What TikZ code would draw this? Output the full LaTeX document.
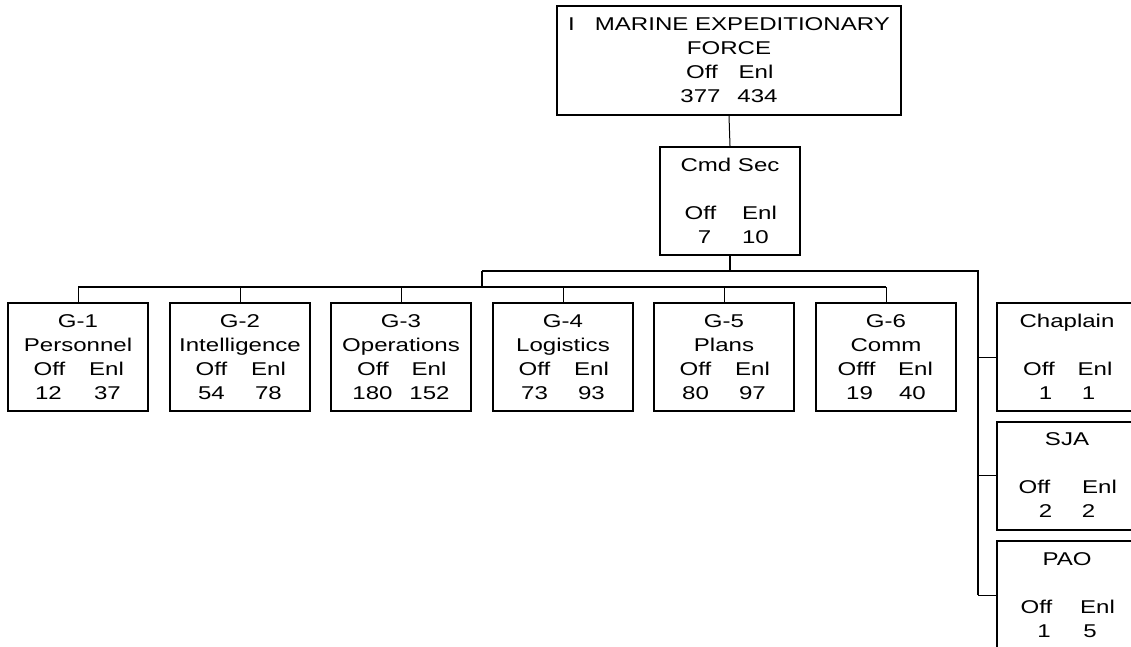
\documentclass[tikz,border=0pt]{standalone}
\usepackage{fontspec}
\setmainfont{Liberation Sans}[FakeStretch=1.3]
\newcommand{\pair}[3]{\makebox[30pt][c]{#2}\hspace{\dimexpr#1pt-30pt\relax}\makebox[30pt][c]{#3}}
\begin{document}
\begin{tikzpicture}[x=1pt,y=-1pt,
  box/.style={draw, line width=2pt, minimum width=140pt, minimum height=108pt,
    inner sep=0pt, align=center, font=\fontsize{18.5}{24}\selectfont},
  bus/.style={line width=2pt},
  drop/.style={line width=1pt}]
\useasboundingbox (0,0) rectangle (1131,647);
\clip (0,0) rectangle (1131,647);
\node[box, minimum width=344pt, minimum height=109pt] (mef) at (729,60.5)
  {I\ \ \ MARINE EXPEDITIONARY\\FORCE\\\pair{54}{Off}{Enl}\\\pair{57}{377}{434}};
\node[box] (cmd) at (730,201) {Cmd Sec\\\strut\\\pair{59}{Off}{Enl}\\\pair{51}{7}{10}};
\node[box] (g1) at (78,357) {G-1\\Personnel\\\pair{57}{Off}{Enl}\\\pair{59}{12}{37}};
\node[box] (g2) at (240,357) {G-2\\Intelligence\\\pair{57}{Off}{Enl}\\\pair{57}{54}{78}};
\node[box] (g3) at (401,357) {G-3\\Operations\\\pair{56}{Off}{Enl}\\\pair{57}{180}{152}};
\node[box] (g4) at (563,357) {G-4\\Logistics\\\pair{57}{Off}{Enl}\\\pair{57}{73}{93}};
\node[box] (g5) at (724,357) {G-5\\Plans\\\pair{57}{Off}{Enl}\\\pair{57}{80}{97}};
\node[box] (g6) at (886,357) {G-6\\Comm\\\pair{59}{Offf}{Enl}\\\pair{53}{19}{40}};
\node[box] (chap) at (1067,357) {Chaplain\\\strut\\\pair{56}{Off}{Enl}\\\pair{43}{1}{1}};
\node[box] (sja) at (1067,475.5) {SJA\\\strut\\\pair{65}{Off}{Enl}\\\pair{43}{2}{2}};
\node[box] (pao) at (1067,595) {PAO\\\strut\\\pair{61}{Off}{Enl}\\\pair{46}{1}{5}};
\coordinate (j1) at (730,271);
\coordinate (jL) at (482,271);
\coordinate (jR) at (978,271);
\coordinate (g) at (482,287);
\draw[drop] (mef.south) -- (cmd.north);
\draw[bus] (cmd.south) -- (j1);
\draw[bus] (jL) -- (jR) -- (jR |- pao.west);
\draw[bus] (jL) -- (g);
\draw[bus] (g1.north |- g) -- (g6.north |- g);
\foreach \n in {g1,g2,g3,g4,g5,g6} \draw[drop] (\n.north |- g) -- (\n.north);
\foreach \n in {chap,sja,pao} \draw[drop] (jR |- \n.west) -- (\n.west);
\end{tikzpicture}
\end{document}
